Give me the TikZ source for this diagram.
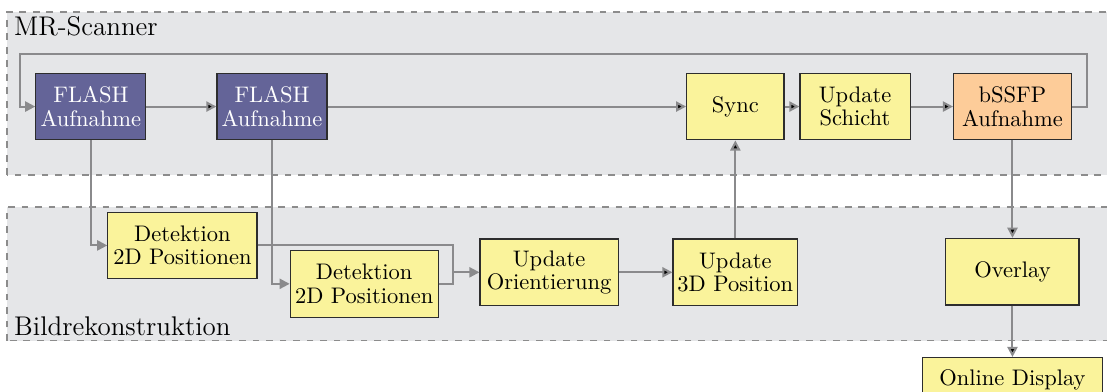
\documentclass[tikz,border=0pt]{standalone}
\usepackage{amsmath}
\usepackage{tikz}
\usetikzlibrary{arrows.meta,positioning}

\definecolor{grpfill}{RGB}{229,230,232}
\definecolor{grpline}{RGB}{140,140,140}
\definecolor{flow}{RGB}{138,138,140}
\definecolor{boxline}{RGB}{45,45,45}
\definecolor{flashcol}{RGB}{100,100,152}
\definecolor{proccol}{RGB}{250,243,155}
\definecolor{ssfpcol}{RGB}{253,204,153}

\begin{document}
\begin{tikzpicture}[>={Triangle[length=4.5pt,width=4.5pt]},
	group/.style={fill=grpfill,draw=grpline,dashed,line width=0.6pt},
	grplabel/.style={font=\large,inner xsep=3pt,inner ysep=2pt},
	box/.style={draw=boxline,line width=0.5pt,align=center,inner sep=2pt,
		minimum height=1.04cm,font=\fontsize{10}{10.4}\selectfont},
	flash/.style={box,fill=flashcol,text=white,minimum width=1.72cm},
	proc/.style={box,fill=proccol},
	ssfp/.style={box,fill=ssfpcol},
	link/.style={draw=flow,line width=0.9pt}]
	\useasboundingbox (0,0) rectangle (17.297,6.125);

	% the two groups
	\filldraw[group] (0.11,3.39) rectangle (17.6,5.94);
	\node[grplabel,anchor=north west] (scan) at (0.11,5.94) {MR-Scanner};
	\filldraw[group] (0.11,0.80) rectangle (17.6,2.89);
	\node[grplabel,anchor=south west] (reco) at (0.11,0.80) {Bildrekonstruktion};

	% scanner row
	\node[flash] (fl1) at (1.42,4.46) {FLASH\\Aufnahme};
	\node[flash] (fl2) at (4.25,4.46) {FLASH\\Aufnahme};
	\node[proc,minimum width=1.52cm] (sync) at (11.49,4.46) {Sync};
	\node[proc,minimum width=1.72cm] (sch) at (13.36,4.46) {Update\\Schicht};
	\node[ssfp,minimum width=1.84cm] (ssfp) at (15.82,4.46) {bSSFP\\Aufnahme};

	% reconstruction
	\node[proc,minimum width=2.33cm,minimum height=1.02cm] (det1) at (2.85,2.29) {Detektion\\2D Positionen};
	\node[proc,minimum width=2.31cm] (det2) at (5.69,1.69) {Detektion\\2D Positionen};
	\node[proc,minimum width=2.16cm] (ori) at (8.58,1.87) {Update\\Orientierung};
	\node[proc,minimum width=1.94cm] (pos) at (11.49,1.87) {Update\\3D Position};
	\node[proc,minimum width=2.08cm] (ovl) at (15.82,1.88) {Overlay};
	\node[proc,minimum width=2.8cm,minimum height=0.7cm,anchor=north] (disp) at (15.82,0.547) {Online Display};

	\coordinate (loopR) at (16.98,5.28);
	\coordinate (loopL) at (0.3125,5.28);
	\coordinate (merge) at (7.08,1.87);

	\path[link,->]
		(fl1) edge (fl2)
		(fl2) edge (sync)
		(sync) edge (sch)
		(sch) edge (ssfp)
		(ori) edge (pos)
		(pos) edge (sync)
		(ssfp) edge (ovl)
		(ovl) edge (disp);
	\draw[link,->] (ssfp.east) -| (loopR) -- (loopL) |- (fl1.west);
	\draw[link,->] (fl1.south) |- (det1.west);
	\draw[link,->] (fl2.south) |- (det2.west);
	\draw[link] (det1.east) -| (merge);
	\draw[link] (det2.east) -| (merge);
	\draw[link,->] (merge) -- (ori.west);
\end{tikzpicture}
\end{document}
